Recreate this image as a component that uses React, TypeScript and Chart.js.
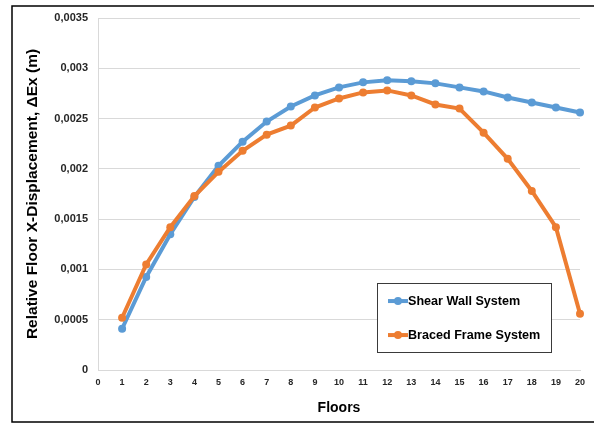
import React, { useEffect, useRef } from "react";
import { Chart, registerables } from "chart.js";

Chart.register(...registerables);

const floors = [1, 2, 3, 4, 5, 6, 7, 8, 9, 10, 11, 12, 13, 14, 15, 16, 17, 18, 19, 20];
const shearWall = [0.00041, 0.000925, 0.00135, 0.00172, 0.00203, 0.00227, 0.00247, 0.00262, 0.00273, 0.00281, 0.00286, 0.00288, 0.00287, 0.00285, 0.00281, 0.00277, 0.00271, 0.00266, 0.00261, 0.00256];
const bracedFrame = [0.00052, 0.00105, 0.00142, 0.00173, 0.00197, 0.00218, 0.00234, 0.00243, 0.00261, 0.0027, 0.00276, 0.00278, 0.00273, 0.00264, 0.0026, 0.00236, 0.0021, 0.00178, 0.00142, 0.00056];
const seriesLabels = ["Shear Wall System", "Braced Frame System"];
const seriesColors = ["#5B9BD5", "#ED7D31"];
const xTitle = "Floors";
const yTitle = "Relative Floor X-Displacement, \u0394Ex (m)";

const FONT = "'Liberation Sans', Arial, sans-serif";

const frameAndLegend = {
  id: "frameAndLegend",
  beforeDraw(chart: any) {
    const ctx = chart.ctx;
    ctx.save();
    ctx.fillStyle = "#ffffff";
    ctx.fillRect(0, 0, chart.width, chart.height);
    ctx.strokeStyle = "#000000";
    ctx.lineWidth = 1.5;
    ctx.beginPath();
    ctx.moveTo(chart.width + 2, 6);
    ctx.lineTo(12, 6);
    ctx.lineTo(12, 422);
    ctx.lineTo(chart.width + 2, 422);
    ctx.stroke();
    ctx.restore();
  },
  afterDraw(chart: any) {
    const ctx = chart.ctx;
    const ca = chart.chartArea;
    const bx = ca.left + (ca.right - ca.left) * 0.5788;
    const by = ca.top + (ca.bottom - ca.top) * 0.753;
    const bw = 174;
    const bh = 69;
    ctx.save();
    ctx.fillStyle = "#ffffff";
    ctx.fillRect(bx, by, bw, bh);
    ctx.strokeStyle = "#3a3a3a";
    ctx.lineWidth = 1;
    ctx.strokeRect(Math.round(bx) + 0.5, Math.round(by) + 0.5, bw, bh);
    chart.data.datasets.forEach((ds: any, i: number) => {
      const cy = by + 18 + i * 34;
      const lx = bx + 11;
      ctx.strokeStyle = ds.borderColor;
      ctx.lineWidth = 4;
      ctx.beginPath();
      ctx.moveTo(lx, cy);
      ctx.lineTo(lx + 20, cy);
      ctx.stroke();
      ctx.fillStyle = ds.borderColor;
      ctx.beginPath();
      ctx.arc(lx + 10, cy, 4, 0, Math.PI * 2);
      ctx.fill();
      ctx.fillStyle = "#000000";
      ctx.font = `bold 12.6px ${FONT}`;
      ctx.textBaseline = "middle";
      ctx.textAlign = "left";
      ctx.fillText(ds.label, lx + 20, cy);
    });
    ctx.restore();
  },
};

export default function App() {
  const ref = useRef<HTMLCanvasElement | null>(null);
  useEffect(() => {
    if (!ref.current) return;
    const mk = (vals: number[]) => floors.map((f, i) => ({ x: f, y: vals[i] }));
    const chart = new Chart(ref.current, {
      type: "line",
      data: {
        datasets: [
          {
            label: seriesLabels[0],
            data: mk(shearWall),
            borderColor: seriesColors[0],
            backgroundColor: seriesColors[0],
            borderWidth: 4,
            pointRadius: 4,
            pointBorderWidth: 0,
            pointBackgroundColor: seriesColors[0],
            tension: 0,
            clip: false,
            order: 1,
          },
          {
            label: seriesLabels[1],
            data: mk(bracedFrame),
            borderColor: seriesColors[1],
            backgroundColor: seriesColors[1],
            borderWidth: 4,
            pointRadius: 4,
            pointBorderWidth: 0,
            pointBackgroundColor: seriesColors[1],
            tension: 0,
            clip: false,
            order: 0,
          },
        ],
      },
      options: {
        responsive: false,
        animation: false,
        events: [],
        layout: { padding: { top: 18, right: 14, bottom: 0, left: 12 } },
        plugins: {
          legend: { display: false },
          tooltip: { enabled: false },
        },
        scales: {
          x: {
            type: "linear",
            min: 0,
            max: 20,
            ticks: {
              stepSize: 1,
              padding: 7,
              color: "#262626",
              font: { family: FONT, size: 9, weight: "bold" },
              maxRotation: 0,
              autoSkip: false,
            },
            grid: { display: false, drawTicks: false },
            border: { display: true, color: "#d9d9d9", width: 1 },
            title: {
              display: true,
              text: xTitle,
              color: "#000000",
              font: { family: FONT, size: 14, weight: "bold" },
              padding: { top: 0, bottom: 6 },
            },
            afterFit: (s: any) => {
              s.height = 53;
            },
          },
          y: {
            min: 0,
            max: 0.0035,
            ticks: {
              stepSize: 0.0005,
              padding: 10,
              color: "#262626",
              font: { family: FONT, size: 11, weight: "bold" },
              callback: (v: any) => Number(Number(v).toFixed(4)).toString().replace(".", ","),
            },
            grid: { color: "#d9d9d9", lineWidth: 1, drawTicks: false },
            border: { display: true, color: "#d9d9d9", width: 1 },
            title: {
              display: true,
              text: yTitle,
              color: "#000000",
              font: { family: FONT, size: 15.5, weight: "bold" },
              padding: { top: 11, bottom: 0 },
            },
            afterFit: (s: any) => {
              s.width = 86;
            },
          },
        },
      },
      plugins: [frameAndLegend],
    });
    return () => chart.destroy();
  }, []);
  return (
    <div style={{ position: "fixed", left: 0, top: 0, width: 594, height: 423, background: "#fff" }}>
      <canvas ref={ref} width={594} height={423} style={{ display: "block" }} />
    </div>
  );
}
